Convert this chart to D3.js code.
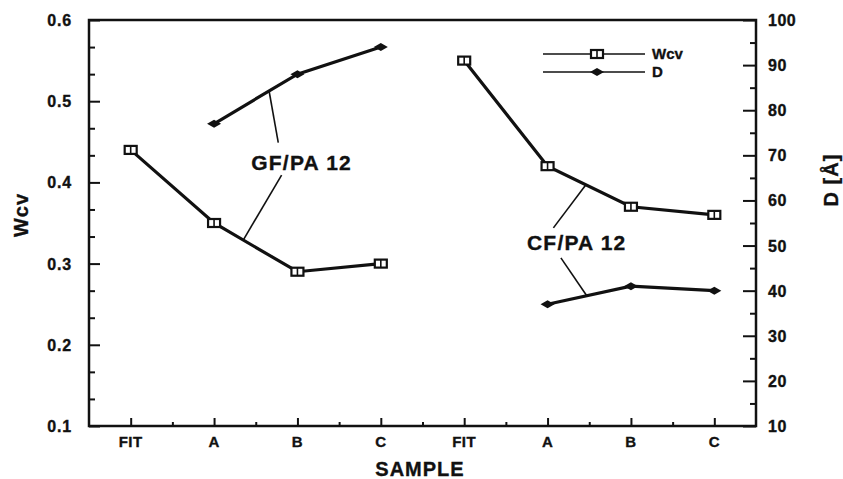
<!DOCTYPE html>
<meta charset="utf-8">
<style>
body { margin: 0; background: #fff; }
text { font-family: "Liberation Sans", Arial, sans-serif; font-weight: bold; fill: #111; stroke: #111; stroke-width: 0.35px; }
.frame { fill: none; stroke: #111; stroke-width: 2.5px; }
.tick line { stroke: #111; stroke-width: 2px; }
.series { fill: none; stroke: #111; stroke-width: 3.2px; }
.leader { stroke: #111; stroke-width: 1.6px; }
</style>
<svg width="843" height="479"></svg>
<script src="https://d3js.org/d3.v7.min.js"></script>
<script>

// data
var samples = ["FIT", "A", "B", "C", "FIT", "A", "B", "C"];
var gfWcv = [0.44, 0.35, 0.29, 0.30];
var cfWcv = [0.55, 0.42, 0.37, 0.36];
var gfD = [null, 77, 88, 94];
var cfD = [null, 37, 41, 40];
var wcvTicks = [0.1, 0.2, 0.3, 0.4, 0.5, 0.6];
var dTicks = [10, 20, 30, 40, 50, 60, 70, 80, 90, 100];

var svg = d3.select("svg");
var pLeft = 89, pRight = 756, pTop = 20, pBottom = 426;

var x = d3.scaleLinear().domain([-0.5, samples.length - 0.5]).range([pLeft, pRight]);
var yW = d3.scaleLinear().domain([0.1, 0.6]).range([pBottom, pTop]);
var yD = d3.scaleLinear().domain([10, 100]).range([pBottom, pTop]);

// frame
svg.append("rect").attr("class", "frame")
    .attr("x", pLeft).attr("y", pTop)
    .attr("width", pRight - pLeft).attr("height", pBottom - pTop);

// left axis, ticks pointing inward
svg.append("g").attr("transform", "translate(" + pLeft + ",0)")
    .call(d3.axisRight(yW).tickValues(wcvTicks).tickSize(11).tickFormat(""))
    .select(".domain").remove();
svg.append("g").attr("transform", "translate(" + pLeft + ",0)")
    .call(d3.axisRight(yW).tickValues(d3.range(0, 15).filter(function(i) { return i % 3 != 0; }).map(function(i) { return 0.1 + i / 30; }))
      .tickSize(6).tickFormat(""))
    .select(".domain").remove();
svg.append("g").selectAll("text").data(wcvTicks).enter().append("text")
    .attr("x", 72).attr("y", function(d) { return yW(d) + 6; })
    .attr("text-anchor", "end").style("font-size", "16px").style("letter-spacing", "0.8px")
    .text(function(d) { return d.toFixed(1); });

// right axis
svg.append("g").attr("transform", "translate(" + pRight + ",0)")
    .call(d3.axisLeft(yD).tickValues(dTicks).tickSize(13).tickFormat(""))
    .select(".domain").remove();
svg.append("g").attr("transform", "translate(" + pRight + ",0)")
    .call(d3.axisLeft(yD).tickValues(dTicks.slice(0, -1).map(function(d) { return d + 5; })).tickSize(6).tickFormat(""))
    .select(".domain").remove();
svg.append("g").selectAll("text").data(dTicks).enter().append("text")
    .attr("x", 768).attr("y", function(d) { return yD(d) + 6; })
    .style("font-size", "16px").style("letter-spacing", "0.5px")
    .text(function(d) { return d; });

// x axis
svg.append("g").attr("transform", "translate(0," + pBottom + ")")
    .call(d3.axisTop(x).tickValues(d3.range(samples.length)).tickSize(8).tickFormat(""))
    .select(".domain").remove();
svg.append("g").attr("transform", "translate(0," + pBottom + ")")
    .call(d3.axisTop(x).tickValues(d3.range(samples.length - 1).map(function(i) { return i + 0.5; })).tickSize(4).tickFormat(""))
    .select(".domain").remove();
svg.append("g").selectAll("text").data(samples).enter().append("text")
    .attr("x", function(d, i) { return x(i); }).attr("y", 447)
    .attr("text-anchor", "middle").style("font-size", "15px").style("letter-spacing", "0.5px")
    .text(function(d) { return d; });

// axis titles
svg.append("text").attr("x", 420).attr("y", 476).attr("text-anchor", "middle")
    .style("font-size", "20px").style("letter-spacing", "1px").text("SAMPLE");
svg.append("text").attr("transform", "translate(28,215) rotate(-90)").attr("text-anchor", "middle")
    .style("font-size", "20px").style("letter-spacing", "1px").text("Wcv");
svg.append("text").attr("transform", "translate(838,180) rotate(-90)").attr("text-anchor", "middle")
    .style("font-size", "20px").style("letter-spacing", "1px").text("D [Å]");

// series
function pts(vals, offset, scale) {
  return vals.map(function(v, i) { return v == null ? null : [x(i + offset), scale(v)]; })
    .filter(function(p) { return p; });
}
var series = [
  { p: pts(gfWcv, 0, yW), m: "sq" },
  { p: pts(cfWcv, 4, yW), m: "sq" },
  { p: pts(gfD, 0, yD), m: "dia" },
  { p: pts(cfD, 4, yD), m: "dia" }
];
var line = d3.line();

function square(g, px, py) {
  g.append("rect").attr("x", px - 6).attr("y", py - 4).attr("width", 12).attr("height", 8)
    .attr("fill", "#fff").attr("stroke", "#111").attr("stroke-width", 2.2);
  g.append("line").attr("x1", px).attr("x2", px).attr("y1", py - 4).attr("y2", py + 4)
    .attr("stroke", "#111").attr("stroke-width", 1.6);
}
function diamond(g, px, py) {
  g.append("path").attr("d", "M" + (px - 7) + "," + py + "L" + px + "," + (py - 4) + "L" + (px + 7) + "," + py + "L" + px + "," + (py + 4) + "Z")
    .attr("fill", "#111");
}

series.forEach(function(s) {
  var g = svg.append("g");
  g.append("path").attr("class", "series").attr("d", line(s.p));
  s.p.forEach(function(p) { (s.m == "sq" ? square : diamond)(g, p[0], p[1]); });
});

// annotations: label position in data units, leaders point at a fraction along a segment
function along(s, seg, t) {
  var a = s.p[seg], b = s.p[seg + 1];
  return [a[0] + (b[0] - a[0]) * t, a[1] + (b[1] - a[1]) * t];
}
var notes = [
  { text: "GF/PA 12", xi: 2.05, w: 0.415, leads: [[1.77, 0.449, series[2], 0, 0.66], [1.81, 0.409, series[0], 1, 0.35]] },
  { text: "CF/PA 12", xi: 5.35, w: 0.317, leads: [[5.07, 0.344, series[1], 1, 0.46], [5.16, 0.307, series[3], 0, 0.47]] }
];
notes.forEach(function(n) {
  svg.append("text").attr("x", x(n.xi)).attr("y", yW(n.w)).attr("text-anchor", "middle")
    .style("font-size", "21px").style("letter-spacing", "1.2px").text(n.text);
  n.leads.forEach(function(l) {
    var e = along(l[2], l[3], l[4]);
    svg.append("line").attr("class", "leader")
      .attr("x1", x(l[0])).attr("y1", yW(l[1])).attr("x2", e[0]).attr("y2", e[1]);
  });
});

// legend
var lg = svg.append("g");
[["Wcv", square, 54], ["D", diamond, 72]].forEach(function(r) {
  lg.append("line").attr("x1", 543).attr("x2", 645).attr("y1", r[2]).attr("y2", r[2])
    .attr("stroke", "#111").attr("stroke-width", 1.6);
  r[1](lg, 597, r[2]);
  lg.append("text").attr("x", 652).attr("y", r[2] + 5).style("font-size", "15px").text(r[0]);
});

</script>
